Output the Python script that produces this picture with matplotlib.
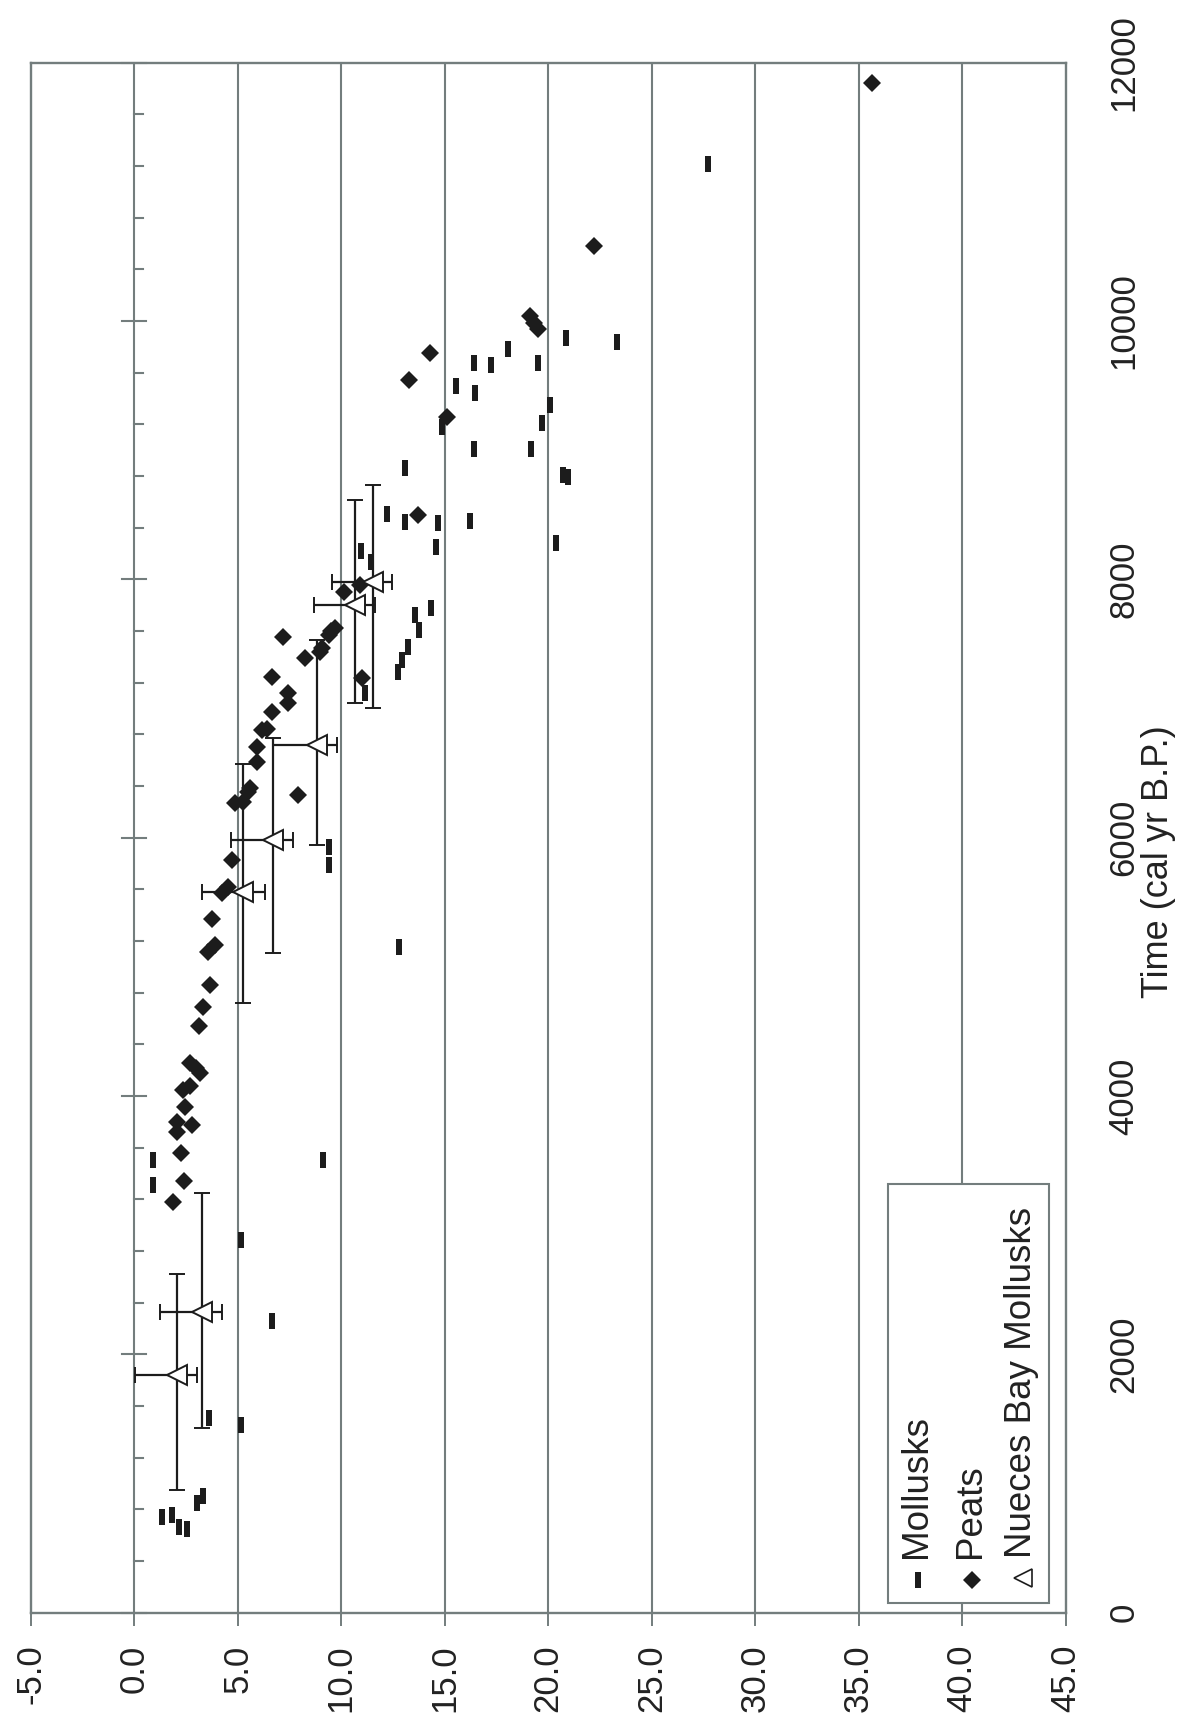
import numpy as np
import matplotlib
matplotlib.use('Agg')
import matplotlib.pyplot as plt
from matplotlib.path import Path
from matplotlib.patches import Rectangle

plt.rcParams['font.family'] = ['Liberation Sans', 'DejaVu Sans']

# depth (m) and calibrated age (cal yr B.P.)
moll_depth = [27.71, 20.87, 23.32, 18.08, 16.42, 17.26, 19.5, 15.53, 16.47, 20.09,
              19.69, 14.89, 16.42, 19.16, 13.08, 20.71, 20.98, 12.23, 13.08, 14.66,
              16.23, 20.39, 14.58, 10.94, 11.42, 14.34, 13.57, 13.78, 13.21, 12.92,
              12.73, 11.15, 9.41, 9.41, 12.81, 0.89, 0.89, 9.1, 5.14, 6.67,
              3.63, 5.14, 3.34, 3.02, 1.35, 1.81, 2.16, 2.56]
moll_time = [11215, 9871, 9834, 9780, 9671, 9658, 9671, 9496, 9444, 9349,
             9207, 9181, 9008, 9008, 8859, 8807, 8794, 8505, 8446, 8433,
             8451, 8278, 8247, 8221, 8136, 7775, 7723, 7607, 7478, 7375,
             7284, 7117, 5930, 5790, 5150, 3503, 3310, 3503, 2884, 2259,
             1503, 1452, 902, 845, 742, 755, 664, 644]

peat_depth = [35.64, 22.22, 19.1, 19.3, 19.5, 14.29, 13.28, 15.1, 13.73, 10.15,
              10.91, 10.99, 7.2, 9.5, 9.7, 9.4, 9.06, 8.98, 8.25, 6.64,
              7.44, 7.44, 6.64, 6.16, 6.4, 5.92, 5.92, 7.93, 5.59, 5.51,
              4.87, 5.27, 4.71, 4.54, 4.22, 3.74, 3.9, 3.58, 3.66, 3.34,
              3.14, 2.69, 2.98, 3.18, 2.69, 2.37, 2.45, 2.05, 2.77, 2.08,
              2.26, 2.42, 1.89]
peat_time = [11844, 10582, 10040, 9985, 9935, 9749, 9542, 9258, 8497, 7903,
             7955, 7233, 7555, 7600, 7620, 7565, 7465, 7439, 7388, 7245,
             7117, 7039, 6974, 6833, 6840, 6703, 6587, 6329, 6381, 6355,
             6265, 6277, 5826, 5619, 5568, 5367, 5168, 5116, 4858, 4690,
             4541, 4252, 4213, 4175, 4076, 4045, 3911, 3800, 3774, 3722,
             3560, 3343, 3176]

nb_depth = [2.05, 3.26, 5.27, 6.69, 8.82, 10.67, 11.55]
nb_time = [1840, 2330, 5580, 5980, 6716, 7800, 7980]
nb_depth_lo = [2.0, 2.0, 2.0, 2.0, 2.1, 2.0, 2.0]
nb_depth_hi = [1.0, 1.0, 1.05, 1.0, 1.0, 0.96, 0.9]
nb_time_lo = [890, 900, 860, 870, 775, 755, 975]
nb_time_hi = [780, 920, 990, 790, 810, 815, 750]

depth_ticks = np.arange(-5, 50, 5)
time_ticks = np.arange(0, 12001, 2000)

dark = '#1c1c1c'
gridc = '#737d7d'

fig = plt.figure(figsize=(11.83, 17.22), dpi=100)
ax = fig.add_axes([30.8 / 1183, 1 - 1612.5 / 1722, (1065.5 - 30.8) / 1183,
                   (1612.5 - 62.6) / 1722])
ax.set_xlim(-5, 45)
ax.set_ylim(0, 12000)

for s in ax.spines.values():
    s.set_color(gridc)
    s.set_linewidth(1.7)

for d in depth_ticks[1:-1]:
    ax.axvline(d, color=gridc, lw=1.5, zorder=1)

# time tick marks sitting on the zero-depth line
for t in np.arange(0, 12001, 400):
    if t % 2000 == 0:
        ax.plot([-0.58, 0.55], [t, t], color=gridc, lw=1.5, zorder=1, clip_on=False)
    else:
        ax.plot([0, 0.44], [t, t], color=gridc, lw=1.5, zorder=1)

ax.set_xticks(depth_ticks)
ax.set_xticklabels([f'{v:.1f}' for v in depth_ticks])
ax.tick_params(axis='x', direction='out', length=9, width=1.4, color=gridc,
               pad=14, labelsize=25, labelrotation=90, labelcolor='#222222')

ax.yaxis.tick_right()
ax.set_yticks(time_ticks)
ax.set_yticklabels([str(v) for v in time_ticks])
ax.tick_params(axis='y', length=0, pad=30, labelsize=25, labelrotation=90,
               labelcolor='#222222')
for lab in ax.get_yticklabels():
    lab.set_va('center')

fig.text(1158 / 1183, 1 - 862 / 1722, 'Time (cal yr B.P.)', rotation=90,
         ha='center', va='center', fontsize=26, color='#222222')

bar = Path([(-0.17, -0.5), (0.17, -0.5), (0.17, 0.5), (-0.17, 0.5), (-0.17, -0.5)],
           [Path.MOVETO, Path.LINETO, Path.LINETO, Path.LINETO, Path.CLOSEPOLY])

ax.plot(moll_depth, moll_time, ls='none', marker=bar, ms=12, color=dark,
        mew=0, zorder=3)
ax.plot(peat_depth, peat_time, ls='none', marker='D', ms=9, color=dark, mew=0,
        zorder=3)
ax.errorbar(nb_depth, nb_time, xerr=[nb_depth_lo, nb_depth_hi],
            yerr=[nb_time_lo, nb_time_hi], fmt='<', ms=14, mfc='white', mec=dark,
            mew=1.4, ecolor=dark, elinewidth=1.6, capsize=6, capthick=1.6, zorder=4)

# legend box drawn by hand (rotated layout)
ax.add_patch(Rectangle((36.44, 76), 44.18 - 36.44, 3318 - 76, fc='white',
                       ec=gridc, lw=1.5, zorder=5))
ax.plot([37.89], [252], ls='none', marker=bar, ms=12, color=dark, mew=0, zorder=6)
ax.plot([40.47], [252], ls='none', marker='D', ms=9.5, color=dark, mew=0, zorder=6)
ax.plot([42.97], [267], ls='none', marker='<', ms=13, mfc='white', mec=dark,
        mew=1.2, zorder=6)
leg_labels = ['Mollusks', 'Peats', 'Nueces Bay Mollusks']
leg_x = [37.82, 40.39, 42.89]
for lx, lab in zip(leg_x, leg_labels):
    ax.text(lx, 425, lab, rotation=90, ha='center', va='bottom', fontsize=26.5,
            color='#222222', zorder=6)

fig.savefig('out.png', dpi=100, facecolor='white')
